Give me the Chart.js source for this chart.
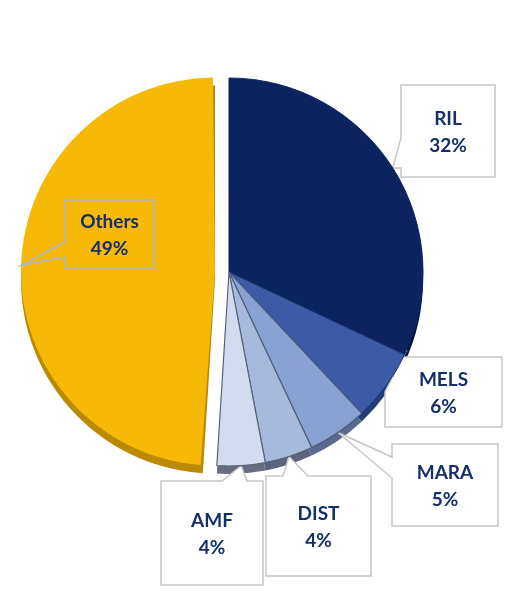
<!DOCTYPE html>
<html>
<head>
<meta charset="utf-8">
<title>Shareholding</title>
<script src="https://cdn.jsdelivr.net/npm/chart.js@4.4.0/dist/chart.umd.min.js"></script>
<style>
    html, body { margin: 0; padding: 0; background: #fff; }
    #pie-chart { display: block; }
</style>
</head>
<body>
<canvas id="pie-chart" width="523" height="593"></canvas>
<script>
const labels = ['RIL', 'MELS', 'MARA', 'DIST', 'AMF', 'Others'];
const shares = [32, 6, 5, 4, 4, 49];

const sliceColors = ['#0b2460', '#3b5ba5', '#89a2d3', '#a8b9de', '#d3dcee', '#f6b908'];
const edgeColors = ['#0b2460', '#1c336e', '#4b5a7d', '#535f7b', '#5c6478', '#f6b908'];
const rimColors = ['#06173f', '#243d77', '#5a6890', '#5c647d', '#676d80', '#b98a02'];
const explode = [0, 0, 0, 0, 0, 56];   // chart.js moves a slice by offset / 4

const PIE_RADIUS = 194,
    RIM_DEPTH = 8,
    TEXT_COLOR = '#14306a';

// callout boxes: left, top, width, height, side the pointer leaves from,
// pointer base (a..b) along that side, turn = degrees to move the tip off the slice middle
const callouts = [
    {x: 401, y: 85, w: 94, h: 92, side: 'left', a: 53, b: 83},
    {x: 385, y: 357, w: 117, h: 70, side: 'left', a: 0, b: 35, turn: -12},
    {x: 392, y: 444, w: 106, h: 82, side: 'left', a: 13, b: 34},
    {x: 266, y: 476, w: 105, h: 100, side: 'top', a: 17, b: 42},
    {x: 161, y: 481, w: 102, h: 104, side: 'top', a: 61, b: 86},
    {x: 65, y: 200, w: 89, h: 68, side: 'left', a: 42, b: 57, clear: true}
];

function shiftOf(arc) {
    var half = (arc.startAngle + arc.endAngle) / 2,
        off = (arc.options.offset || 0) / 4;
    return {x: Math.cos(half) * off, y: Math.sin(half) * off};
}

function tipOf(arc, c) {
    var s = shiftOf(arc),
        ang = (arc.startAngle + arc.endAngle) / 2 + (c.turn || 0) * Math.PI / 180;
    return {x: arc.x + s.x + Math.cos(ang) * PIE_RADIUS, y: arc.y + s.y + Math.sin(ang) * PIE_RADIUS};
}

function calloutPath(ctx, c, tip) {
    ctx.beginPath();
    if (c.side === 'left') {
        ctx.moveTo(c.x, c.y);
        ctx.lineTo(c.x + c.w, c.y);
        ctx.lineTo(c.x + c.w, c.y + c.h);
        ctx.lineTo(c.x, c.y + c.h);
        ctx.lineTo(c.x, c.y + c.b);
        ctx.lineTo(tip.x, tip.y);
        ctx.lineTo(c.x, c.y + c.a);
    } else {
        ctx.moveTo(c.x, c.y);
        ctx.lineTo(c.x + c.a, c.y);
        ctx.lineTo(tip.x, tip.y);
        ctx.lineTo(c.x + c.b, c.y);
        ctx.lineTo(c.x + c.w, c.y);
        ctx.lineTo(c.x + c.w, c.y + c.h);
        ctx.lineTo(c.x, c.y + c.h);
    }
    ctx.closePath();
}

function drawCallout(ctx, arc, c) {
    var tip = tipOf(arc, c);
    ctx.save();
    calloutPath(ctx, c, tip);
    if (!c.clear) {
        ctx.fillStyle = '#ffffff';
        ctx.fill();
    }
    ctx.lineWidth = 1.5;
    ctx.strokeStyle = c.clear ? '#aab7cf' : '#c6c6c6';
    ctx.stroke();
    ctx.restore();
}

function drawLabel(ctx, i, c) {
    var cx = c.x + c.w / 2,
        cy = c.y + c.h / 2 + 1;
    ctx.save();
    ctx.font = 'bold 19px Lato';
    ctx.fillStyle = TEXT_COLOR;
    ctx.textAlign = 'center';
    ctx.textBaseline = 'middle';
    ctx.fillText(labels[i], cx, cy - 13.5);
    ctx.fillText(shares[i] + '%', cx, cy + 13.5);
    ctx.restore();
}

const pieLook = {
    id: 'pieLook',
    // chart.js grows an exploded slice's radius, keep it the same size as the others
    afterDatasetsUpdate: function (chart) {
        chart.getDatasetMeta(0).data.forEach(function (arc) {
            var off = (arc.options.offset || 0) / 4,
                fix = 1 - Math.sin(Math.min(Math.PI, arc.endAngle - arc.startAngle));
            arc.outerRadius = PIE_RADIUS - off * fix;
        });
    },
    beforeDatasetsDraw: function (chart) {
        var ctx = chart.ctx,
            arcs = chart.getDatasetMeta(0).data;
        // thickness under the pie
        arcs.forEach(function (arc, i) {
            var s = shiftOf(arc),
                x = arc.x + s.x,
                y = arc.y + s.y + RIM_DEPTH;
            ctx.save();
            ctx.beginPath();
            ctx.moveTo(x, y);
            ctx.arc(x, y, PIE_RADIUS, arc.startAngle, arc.endAngle);
            ctx.closePath();
            ctx.fillStyle = rimColors[i];
            ctx.fill();
            ctx.restore();
        });
        arcs.forEach(function (arc, i) {
            if (!callouts[i].clear) drawCallout(ctx, arc, callouts[i]);
        });
    },
    afterDatasetsDraw: function (chart) {
        var ctx = chart.ctx,
            arcs = chart.getDatasetMeta(0).data;
        arcs.forEach(function (arc, i) {
            if (callouts[i].clear) drawCallout(ctx, arc, callouts[i]);
            drawLabel(ctx, i, callouts[i]);
        });
    }
};

new Chart(document.getElementById('pie-chart'), {
    type: 'pie',
    data: {
        labels: labels,
        datasets: [{
            data: shares,
            backgroundColor: sliceColors,
            borderColor: edgeColors,
            borderWidth: [1, 1, 1.2, 1.2, 1.2, 0],
            offset: explode
        }]
    },
    options: {
        responsive: false,
        animation: false,
        events: [],
        radius: PIE_RADIUS,
        layout: {
            padding: {left: 0, right: 65, top: 0, bottom: 49}
        },
        plugins: {
            legend: {display: false},
            tooltip: {enabled: false}
        }
    },
    plugins: [pieLook]
});
</script>
</body>
</html>
